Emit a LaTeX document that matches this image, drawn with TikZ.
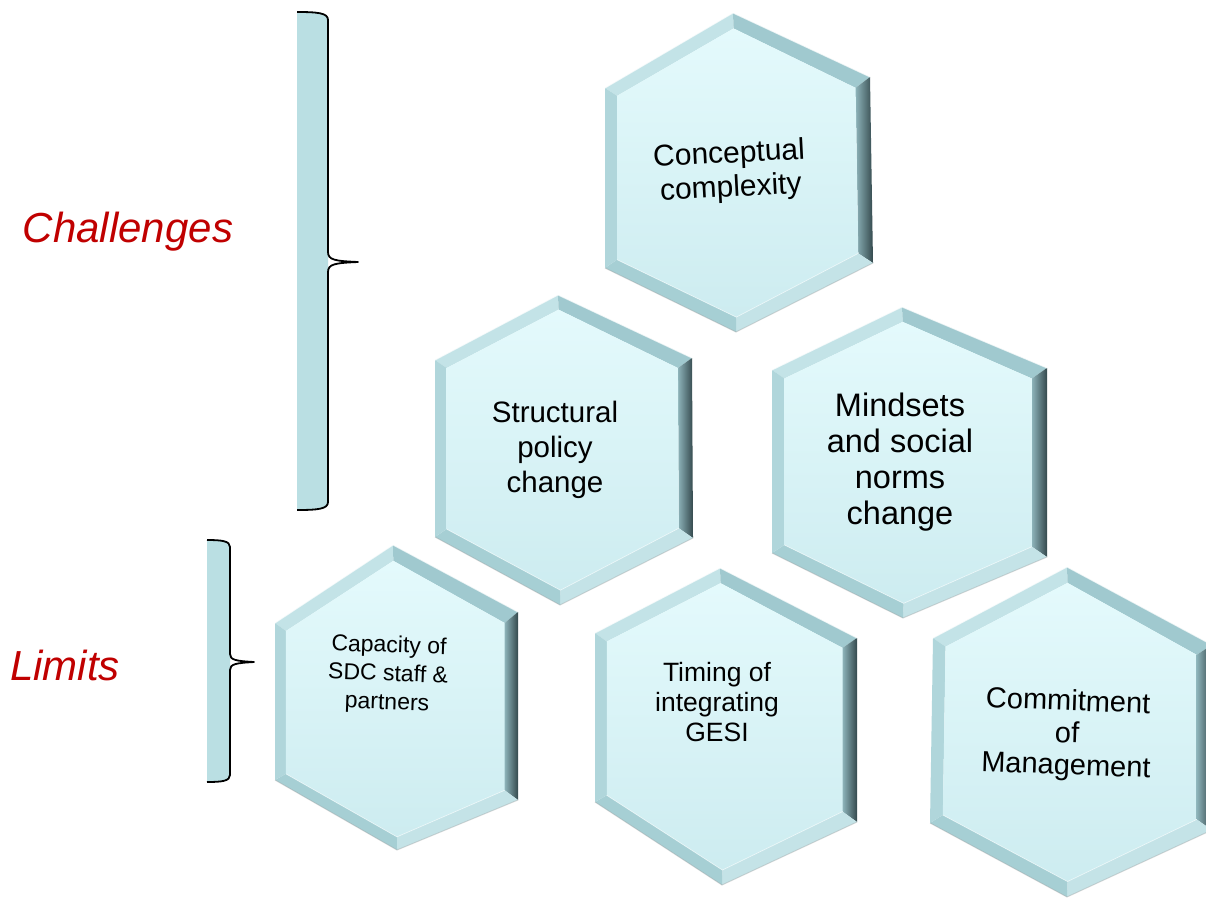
\documentclass[tikz,border=0pt]{standalone}
\usepackage{fontspec}
\setmainfont{Liberation Sans}
\usetikzlibrary{calc}
\definecolor{labred}{HTML}{C00000}
\definecolor{bracefill}{HTML}{BADFE3}
\definecolor{fTL}{HTML}{C3E3E7}
\definecolor{fTR}{HTML}{A0C9CF}
\definecolor{fRa}{HTML}{8DB3B9}
\definecolor{fRb}{HTML}{34494D}
\definecolor{fBR}{HTML}{C4E3E7}
\definecolor{fBL}{HTML}{A6CFD4}
\definecolor{fL}{HTML}{B0D6DB}
\definecolor{faceTop}{HTML}{E4FAFC}
\definecolor{faceBot}{HTML}{CDECF0}
\tikzset{
  hextext/.style={align=center, text=black, inner sep=0pt},
  biglabel/.style={text=labred, font=\itshape\fontsize{42}{50}\selectfont, inner sep=0pt},
  braceline/.style={draw=black, line width=1.8pt, line join=round},
}
\newcommand\hexshape[7]{%
  \coordinate (#1T) at (#2);
  \coordinate (#1UR) at (#3);
  \coordinate (#1LR) at (#4);
  \coordinate (#1B) at (#5);
  \coordinate (#1LL) at (#6);
  \coordinate (#1UL) at (#7);
  \coordinate (#1c) at ($(#1UL)!0.5!(#1LR)$);
  \coordinate (#1t) at ($(#1c)!0.905!(#1T)$);
  \coordinate (#1ur) at ($(#1c)!0.89!(#1UR)$);
  \coordinate (#1lr) at ($(#1c)!0.89!(#1LR)$);
  \coordinate (#1b) at ($(#1c)!0.905!(#1B)$);
  \coordinate (#1ll) at ($(#1c)!0.91!(#1LL)$);
  \coordinate (#1ul) at ($(#1c)!0.91!(#1UL)$);
  \fill[fTL] (#1T) -- (#1t) -- (#1ul) -- (#1UL) -- cycle;
  \fill[fTR] (#1T) -- (#1UR) -- (#1ur) -- (#1t) -- cycle;
  \shade[left color=fRa, right color=fRb] (#1UR) -- (#1LR) -- (#1lr) -- (#1ur) -- cycle;
  \fill[fBR] (#1LR) -- (#1B) -- (#1b) -- (#1lr) -- cycle;
  \fill[fBL] (#1B) -- (#1LL) -- (#1ll) -- (#1b) -- cycle;
  \fill[fL] (#1LL) -- (#1UL) -- (#1ul) -- (#1ll) -- cycle;
  \shade[top color=faceTop, bottom color=faceBot] (#1t) -- (#1ur) -- (#1lr) -- (#1b) -- (#1ll) -- (#1ul) -- cycle;
  \draw[white, opacity=0.7, line width=1pt] (#1UL) -- (#1T) -- (#1UR);
  \draw[white, opacity=0.5, line width=0.8pt] (#1ll) -- (#1b) -- (#1lr);
  \draw[black!40, opacity=0.35, line width=1pt] (#1LL) -- (#1B) -- (#1LR);
}
\begin{document}
\begin{tikzpicture}[x=1pt,y=-1pt]
\useasboundingbox (0,0) rectangle (1206,897);
\clip (0,0) rectangle (1206,897);
\fill[white] (0,0) rectangle (1206,897);

% brackets
\fill[bracefill] (297,12) .. controls (318,12) and (328,13) .. (328,20) -- (328,502) .. controls (328,509) and (318,510) .. (297,510) -- cycle;
\draw[braceline] (297,12) .. controls (318,12) and (328,13) .. (328,20) -- (328,252) .. controls (328,260) and (335,261) .. (358,262)
   .. controls (335,263) and (328,264) .. (328,272) -- (328,502) .. controls (328,509) and (318,510) .. (297,510);
\fill[bracefill] (207,540) .. controls (222,540) and (230,541) .. (230,547) -- (230,775) .. controls (230,781) and (222,782) .. (207,782) -- cycle;
\draw[braceline] (207,540) .. controls (222,540) and (230,541) .. (230,547) -- (230,654) .. controls (230,660) and (236,661) .. (254,662)
   .. controls (236,663) and (230,664) .. (230,670) -- (230,775) .. controls (230,781) and (222,782) .. (207,782);

\node[biglabel] (chal) at (128,232) {Challenges};
\node[biglabel] (lim) at (65,665) {Limits};

% hexagons
\hexshape{cc}{733,13}{870,77}{873,263}{736,332}{605,268}{605,88}
\hexshape{sp}{558,295}{692,358}{693,538}{560,605}{435,537}{435,360}
\hexshape{ms}{902,307}{1047,368}{1047,557}{903,618}{772,553}{772,370}
\hexshape{cap}{393,545}{518,612}{518,800}{397,850}{275,780}{275,623}
\hexshape{tim}{720,568}{857,638}{857,822}{722,885}{595,802}{595,633}
\hexshape{com}{1067,567}{1212,645}{1212,830}{1067,897}{930,823}{933,638}

\node[hextext, font=\fontsize{30}{34}\selectfont, rotate=3] (cct) at (730,172) {Conceptual\\complexity};
\node[hextext, font=\fontsize{29.5}{35}\selectfont] (spt) at (555,450) {Structural\\policy\\change};
\node[hextext, font=\fontsize{32.5}{36}\selectfont] (mst) at (900,462) {Mindsets\\and social\\norms\\change};
\node[hextext, font=\fontsize{23}{28.5}\selectfont, rotate=-2] (capt) at (388,675) {Capacity of\\SDC staff \&\\partners};
\node[hextext, font=\fontsize{26.5}{30}\selectfont] (timt) at (717,702) {Timing of\\integrating\\GESI};
\node[hextext, font=\fontsize{29}{32}\selectfont, rotate=-2] (comt) at (1067,735) {Commitment\\of\\Management};
\end{tikzpicture}
\end{document}
